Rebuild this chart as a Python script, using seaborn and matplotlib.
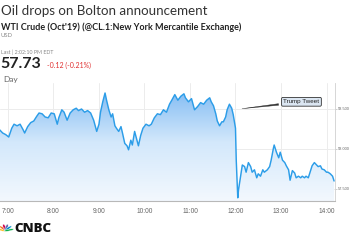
import numpy as np
import pandas as pd
import matplotlib
matplotlib.use("Agg")
import matplotlib.pyplot as plt
import seaborn as sns
from matplotlib.colors import LinearSegmentedColormap
from matplotlib.patches import Ellipse

# ---- data (minutes after 7:00, price) ----
minutes = [-11, -7, -3, 1, 5, 8, 12, 16, 20, 22, 26, 30, 34, 38, 41, 45, 49, 53, 57, 61,
           65, 67, 71, 74, 78, 82, 86, 90, 93, 97, 101, 105, 109, 113, 117, 120, 122, 125, 128, 130,
           133, 136, 138, 141, 143, 146, 149, 151, 154, 157, 159, 162, 164, 167, 170, 172, 175, 178, 182, 186,
           189, 193, 197, 201, 205, 209, 213, 216, 220, 224, 228, 232, 234, 238, 242, 246, 250, 254, 258, 262,
           266, 268, 271, 274, 276, 279, 282, 284, 287, 289, 292, 295, 297, 300, 301, 303, 304,
           307, 309, 312, 314, 317, 320, 322, 325, 328, 330, 333, 336, 338, 342, 345, 347, 350, 351,
           354, 357, 359, 362, 365, 367, 370, 372, 375, 378, 380, 383, 386, 388, 391, 393, 396, 399,
           401, 404, 407, 409, 412, 414, 417, 420, 422, 425, 428, 430]
prices = [58.24, 58.20, 58.18, 58.15, 58.26, 58.31, 58.29, 58.31, 58.24, 58.20, 58.28, 58.33, 58.35, 58.41, 58.45, 58.44, 58.40, 58.39, 58.45, 58.44,
          58.31, 58.39, 58.49, 58.46, 58.36, 58.45, 58.49, 58.51, 58.48, 58.50, 58.46, 58.48, 58.45, 58.36, 58.22, 58.31, 58.46, 58.59, 58.70, 58.61,
          58.49, 58.40, 58.44, 58.29, 58.26, 58.22, 58.28, 58.20, 58.07, 58.04, 57.99, 58.11, 58.05, 58.22, 58.11, 58.04, 58.17, 58.26, 58.31, 58.29,
          58.31, 58.39, 58.44, 58.43, 58.49, 58.46, 58.56, 58.61, 58.68, 58.61, 58.66, 58.69, 58.64, 58.59, 58.63, 58.49, 58.53, 58.58, 58.56, 58.61,
          58.64, 58.59, 58.54, 58.44, 58.35, 58.29, 58.34, 58.34, 58.40, 58.49, 58.56, 58.51, 58.43, 58.26, 57.86, 57.39, 57.49,
          57.68, 57.80, 57.78, 57.71, 57.83, 57.78, 57.71, 57.74, 57.64, 57.69, 57.66, 57.74, 57.71, 57.74, 57.78, 57.86, 58.01, 58.05,
          57.96, 57.89, 57.96, 57.86, 57.83, 57.79, 57.74, 57.61, 57.73, 57.70, 57.64, 57.66, 57.64, 57.66, 57.64, 57.66, 57.64, 57.73,
          57.79, 57.83, 57.80, 57.78, 57.79, 57.75, 57.74, 57.71, 57.71, 57.69, 57.66, 57.60]

hour_ticks = [0, 60, 120, 180, 240, 300, 360, 420]
hour_labels = ["7:00", "8:00", "9:00", "10:00", "11:00", "12:00", "13:00", "14:00"]
price_ticks = [57.5, 58.0, 58.5]
price_labels = ["57.500", "58.000", "58.500"]

title = "Oil drops on Bolton announcement"
subtitle = "WTI Crude (Oct'19) (@CL.1:New York Mercantile Exchange)"
last_price = "57.73"
change = "-0.12 (-0.21%)"

df = pd.DataFrame({"minute": minutes, "price": prices})

XMIN, XMAX = -10.5, 431.6
YMIN, YMAX = 57.35, 58.825

sns.set_theme(style="white")
plt.rcParams["font.family"] = ["Lato", "DejaVu Sans"]

fig = plt.figure(figsize=(3.5, 2.5), dpi=100)
fig.patch.set_facecolor("white")
ax = fig.add_axes([0.0, 0.196, 0.958, 0.472])
ax.set_facecolor("white")

# grid
for t in hour_ticks:
    ax.axvline(t, color="#ececec", lw=0.7, zorder=0)
for p in price_ticks:
    ax.axhline(p, color="#ececec", lw=0.7, zorder=0)

# gradient area
poly = ax.fill_between(df["minute"], df["price"], YMIN, color="none", lw=0)
cmap = LinearSegmentedColormap.from_list("g", ["#f3f8fe", "#d3e8fb", "#78b6f2"])
img = ax.imshow(np.linspace(0, 1, 256).reshape(-1, 1), cmap=cmap, aspect="auto",
                extent=[XMIN, XMAX, YMIN, YMAX], origin="lower", zorder=1)
img.set_clip_path(poly.get_paths()[0], transform=ax.transData)

sns.lineplot(data=df, x="minute", y="price", ax=ax, color="#2c9de8", lw=1.05, zorder=3)

ax.set_xlim(XMIN, XMAX)
ax.set_ylim(YMIN, YMAX)
ax.set_xlabel("")
ax.set_ylabel("")
ax.set_xticks(hour_ticks)
ax.set_xticklabels(hour_labels, fontsize=4.8, color="#666666", family="Liberation Sans")
ax.yaxis.tick_right()
ax.set_yticks(price_ticks)
ax.set_yticklabels(price_labels, fontsize=2.9, color="#666666", family="Liberation Sans")
ax.tick_params(axis="x", length=2, width=0.5, color="#bbbbbb", pad=3)
ax.tick_params(axis="y", length=1.2, width=0.5, color="#bbbbbb", pad=0.3)
for s in ["top", "left"]:
    ax.spines[s].set_visible(False)
ax.spines["right"].set_color("#d0d0d0")
ax.spines["right"].set_linewidth(0.6)
ax.spines["bottom"].set_color("#b8b8b8")
ax.spines["bottom"].set_linewidth(0.8)

# annotation
ax.annotate("Trump Tweet", xy=(305, 58.5), xytext=(387, 58.59),
            fontsize=4.5, color="#222222", ha="center", va="center", family="Liberation Sans",
            bbox=dict(boxstyle="round,pad=0.3,rounding_size=0.2", fc="#dbe6f2", ec="#333333", lw=0.6),
            arrowprops=dict(arrowstyle="wedge,tail_width=0.25", fc="#333333", ec="#333333", lw=0.3),
            zorder=5)

# header texts
fig.text(0.002, 0.956, title, fontsize=9.6, color="#333333", va="center", ha="left")
fig.text(0.002, 0.892, subtitle, fontsize=6.5, color="#222222", va="center", ha="left", fontweight="bold")
fig.text(0.002, 0.857, "USD", fontsize=4.2, color="#888888", va="center", ha="left")
fig.text(0.002, 0.792, "Last | 2:02:10 PM EDT", fontsize=3.8, color="#888888", va="center", ha="left")
fig.text(0.002, 0.744, last_price, fontsize=11.5, color="#222222", va="center", ha="left", fontweight="bold")
fig.text(0.134, 0.737, change, fontsize=5.0, color="#e03030", va="center", ha="left")
fig.text(0.008, 0.682, "Day", fontsize=6.0, color="#666666", va="center", ha="left")

# CNBC logo
feather_colors = ["#fcb711", "#f37021", "#cc004c", "#6460aa", "#0089d0", "#0db14b"]
cx, cy = 5.5, 19.0
W, H = 350.0, 250.0
for i, c in enumerate(feather_colors):
    ang = 165 - i * 30
    r = 3.6
    ex = cx + r * np.cos(np.radians(ang))
    ey = cy + r * np.sin(np.radians(ang))
    e = Ellipse((ex / W, ey / H), width=2.6 / W, height=7.0 / H, angle=ang - 90,
                transform=fig.transFigure, fc=c, ec="white", lw=0.3)
    fig.patches.append(e)
fig.text(0.04, 0.084, "CNBC", fontsize=9.5, color="#111111", va="center", ha="left",
         fontweight="heavy", family=["Open Sans", "DejaVu Sans"])

fig.savefig("out.png", dpi=100)
